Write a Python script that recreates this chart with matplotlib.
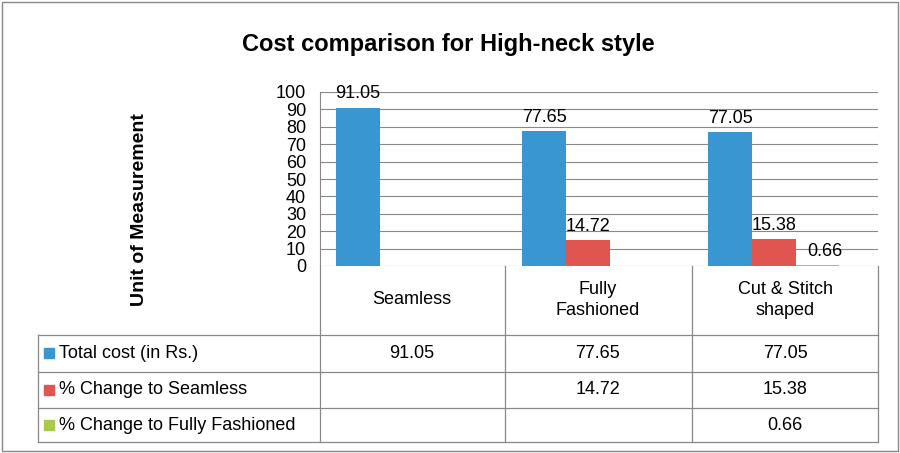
import matplotlib
matplotlib.use("Agg")
import matplotlib.pyplot as plt
from matplotlib.lines import Line2D
from matplotlib.patches import Rectangle
import numpy as np

plt.rcParams['font.family'] = ['Liberation Sans', 'DejaVu Sans']

categories = ["Seamless", "Fully\nFashioned", "Cut & Stitch\nshaped"]
series_names = ["Total cost (in Rs.)", "% Change to Seamless", "% Change to Fully Fashioned"]
total_cost = [91.05, 77.65, 77.05]
chg_seamless = [None, 14.72, 15.38]
chg_fully = [None, None, 0.66]
colors = ["#3a96d0", "#e05550", "#a9c94a"]

W, H = 900, 453
fig = plt.figure(figsize=(9, 4.53), dpi=100)
fig.patch.set_facecolor("white")
def fx(x): return x / W
def fy(y): return 1 - y / H

fig.add_artist(Rectangle((fx(2), fy(451)), fx(896), 449 / H, fill=False, ec="#888888", lw=1, transform=fig.transFigure))

ax = fig.add_axes([fx(320), fy(266), fx(878) - fx(320), fy(92) - fy(266)])
ax.set_xlim(0, 3)
ax.set_ylim(0, 100)
ax.set_yticks(range(0, 101, 10))
ax.tick_params(axis="y", length=0, labelsize=13, pad=10)
ax.set_xticks([])
for s in ["top", "right", "bottom"]:
    ax.spines[s].set_visible(False)
ax.spines["left"].set_color("#888888")
ax.grid(axis="y", color="#888888", lw=0.8)
ax.set_axisbelow(True)

bw = 0.235
offs = [-bw, 0, bw]
x = np.arange(3) + 0.5
for si, vals in enumerate([total_cost, chg_seamless, chg_fully]):
    for i, v in enumerate(vals):
        if v is None:
            continue
        ax.bar(x[i] + offs[si] - 0.06, v, bw, color=colors[si])
        ax.text(x[i] + offs[si] - 0.06 + (0.04 if si == 2 else 0), v + 3, f"{v:.2f}",
                ha="center", va="bottom", fontsize=13)

fig.text(fx(448), fy(45), "Cost comparison for High-neck style", ha="center", va="center", fontsize=17, fontweight="bold")
fig.text(fx(140), fy(210), "Unit of Measurement", rotation=90, ha="center", va="center", fontsize=14, fontweight="bold")

lc = "#888888"
def hline(y, x0, x1):
    fig.add_artist(Line2D([fx(x0), fx(x1)], [fy(y), fy(y)], color=lc, lw=0.9, transform=fig.transFigure))
def vline(x_, y0, y1):
    fig.add_artist(Line2D([fx(x_), fx(x_)], [fy(y0), fy(y1)], color=lc, lw=0.9, transform=fig.transFigure))

for y in [335, 372, 408, 442]:
    hline(y, 38, 878)
for xv in [320, 505, 692, 878]:
    vline(xv, 266, 442)
vline(38, 335, 442)

colx = [412, 598, 785]
for i, c in enumerate(categories):
    fig.text(fx(colx[i]), fy(300), c, ha="center", va="center", fontsize=13, linespacing=1.3)

rows = [total_cost, chg_seamless, chg_fully]
rowy = [353, 390, 425]
for r, vals in enumerate(rows):
    fig.add_artist(Rectangle((fx(44), fy(rowy[r] + 5)), fx(10), 10 / H, color=colors[r], transform=fig.transFigure))
    fig.text(fx(59), fy(rowy[r]), series_names[r], ha="left", va="center", fontsize=13)
    for i, v in enumerate(vals):
        if v is not None:
            fig.text(fx(colx[i]), fy(rowy[r]), f"{v:.2f}", ha="center", va="center", fontsize=13)

fig.savefig("out.png", dpi=100)
